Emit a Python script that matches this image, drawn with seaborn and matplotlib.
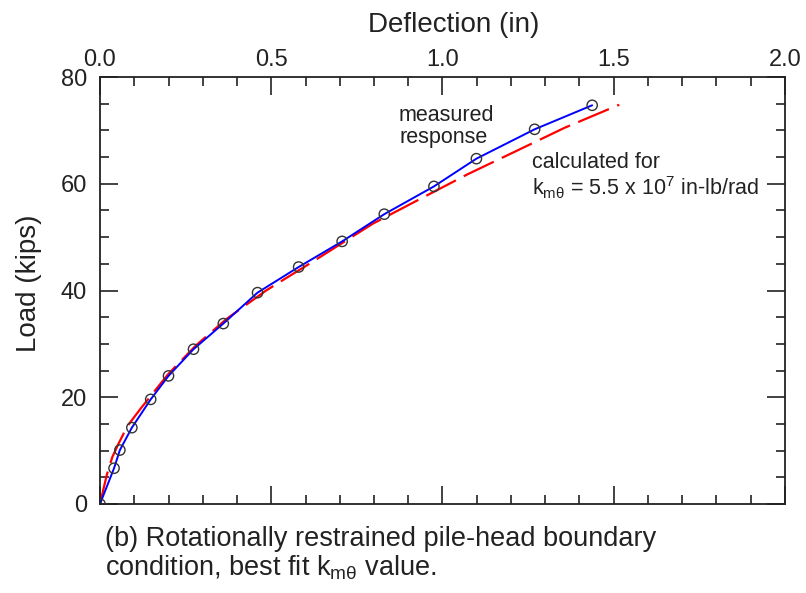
import matplotlib
matplotlib.use("Agg")
import matplotlib.pyplot as plt
import seaborn as sns
from matplotlib.ticker import MultipleLocator, FormatStrFormatter

# measured response (deflection in, load kips)
meas_defl = [0.0, 0.041, 0.058, 0.093, 0.148, 0.200, 0.273, 0.360, 0.460,
             0.580, 0.707, 0.830, 0.975, 1.099, 1.269, 1.437]
meas_load = [0.0, 6.7, 10.1, 14.3, 19.6, 24.0, 29.0, 33.8, 39.6,
             44.4, 49.2, 54.3, 59.5, 64.7, 70.2, 74.7]

# calculated for k_mtheta = 5.5e7 in-lb/rad
calc_defl = [0.0, 0.02, 0.036, 0.054, 0.08, 0.119, 0.15, 0.20, 0.28, 0.37,
             0.485, 0.626, 0.796, 0.933, 1.074, 1.211, 1.357, 1.516]
calc_load = [0.0, 5.5, 8.8, 11.3, 14.6, 17.9, 20.4, 24.4, 29.7, 34.7,
             40.0, 45.6, 52.5, 57.1, 61.8, 66.0, 70.5, 74.8]

sns.set_style("ticks")
plt.rcParams['font.family'] = ['Liberation Sans', 'DejaVu Sans']
plt.rcParams['mathtext.fontset'] = 'custom'
plt.rcParams['mathtext.rm'] = 'Liberation Sans'
plt.rcParams['mathtext.it'] = 'Liberation Sans'

txt = "#222222"

fig = plt.figure(figsize=(8.06, 5.93), dpi=100)
ax = fig.add_axes([100 / 806, 1 - 504 / 593, 685 / 806, 427 / 593])

sns.lineplot(x=calc_defl, y=calc_load, color="red", lw=1.6,
             linestyle=(0, (15, 4)), ax=ax, sort=False)
sns.lineplot(x=meas_defl, y=meas_load, color="blue", lw=1.4, ax=ax, sort=False)
sns.scatterplot(x=meas_defl, y=meas_load, s=55, facecolor="none",
                edgecolor="#333333", linewidth=1.0, ax=ax, zorder=5)

ax.set_xlim(0, 2.0)
ax.set_ylim(0, 80)
ax.xaxis.set_major_locator(MultipleLocator(0.5))
ax.xaxis.set_minor_locator(MultipleLocator(0.1))
ax.yaxis.set_major_locator(MultipleLocator(20))
ax.yaxis.set_minor_locator(MultipleLocator(5))
ax.xaxis.set_major_formatter(FormatStrFormatter('%.1f'))
ax.tick_params(which="both", direction="in", top=True, bottom=True,
               left=True, right=True, labeltop=True, labelbottom=False,
               colors=txt, labelsize=17, width=1.2)
ax.tick_params(which="major", length=13)
ax.tick_params(which="minor", length=6.5)
ax.tick_params(axis="x", pad=4.5)
ax.tick_params(axis="y", pad=9.5)
for sp in ax.spines.values():
    sp.set_linewidth(1.3)
    sp.set_color(txt)

# axis titles
fig.text(453.5 / 806, 1 - 32 / 593, "Deflection (in)", fontsize=20,
         ha="center", va="baseline", color=txt)
fig.text(29.5 / 806, 1 - 283.5 / 593, "Load (kips)", fontsize=20,
         rotation=90, ha="center", va="center", color=txt)

# annotations
ax.text(0.873, 71.8, "measured", fontsize=15.5, va="baseline", color=txt)
ax.text(0.873, 67.6, "response", fontsize=15.5, va="baseline", color=txt)
ax.text(1.260, 62.95, "calculated for", fontsize=15.5, va="baseline", color=txt)
ax.text(1.260, 57.9, r"k$_{m\theta}$ = 5.5 x 10$^7$ in-lb/rad", fontsize=15.5,
        va="baseline", color=txt)

# caption
fig.text(105 / 806, 1 - 546 / 593,
         "(b) Rotationally restrained pile-head boundary",
         fontsize=19.5, ha="left", va="baseline", color=txt)
fig.text(105 / 806, 1 - 575 / 593,
         r"condition, best fit k$_{m\theta}$ value.",
         fontsize=19.5, ha="left", va="baseline", color=txt)

fig.savefig("out.png", dpi=100)
